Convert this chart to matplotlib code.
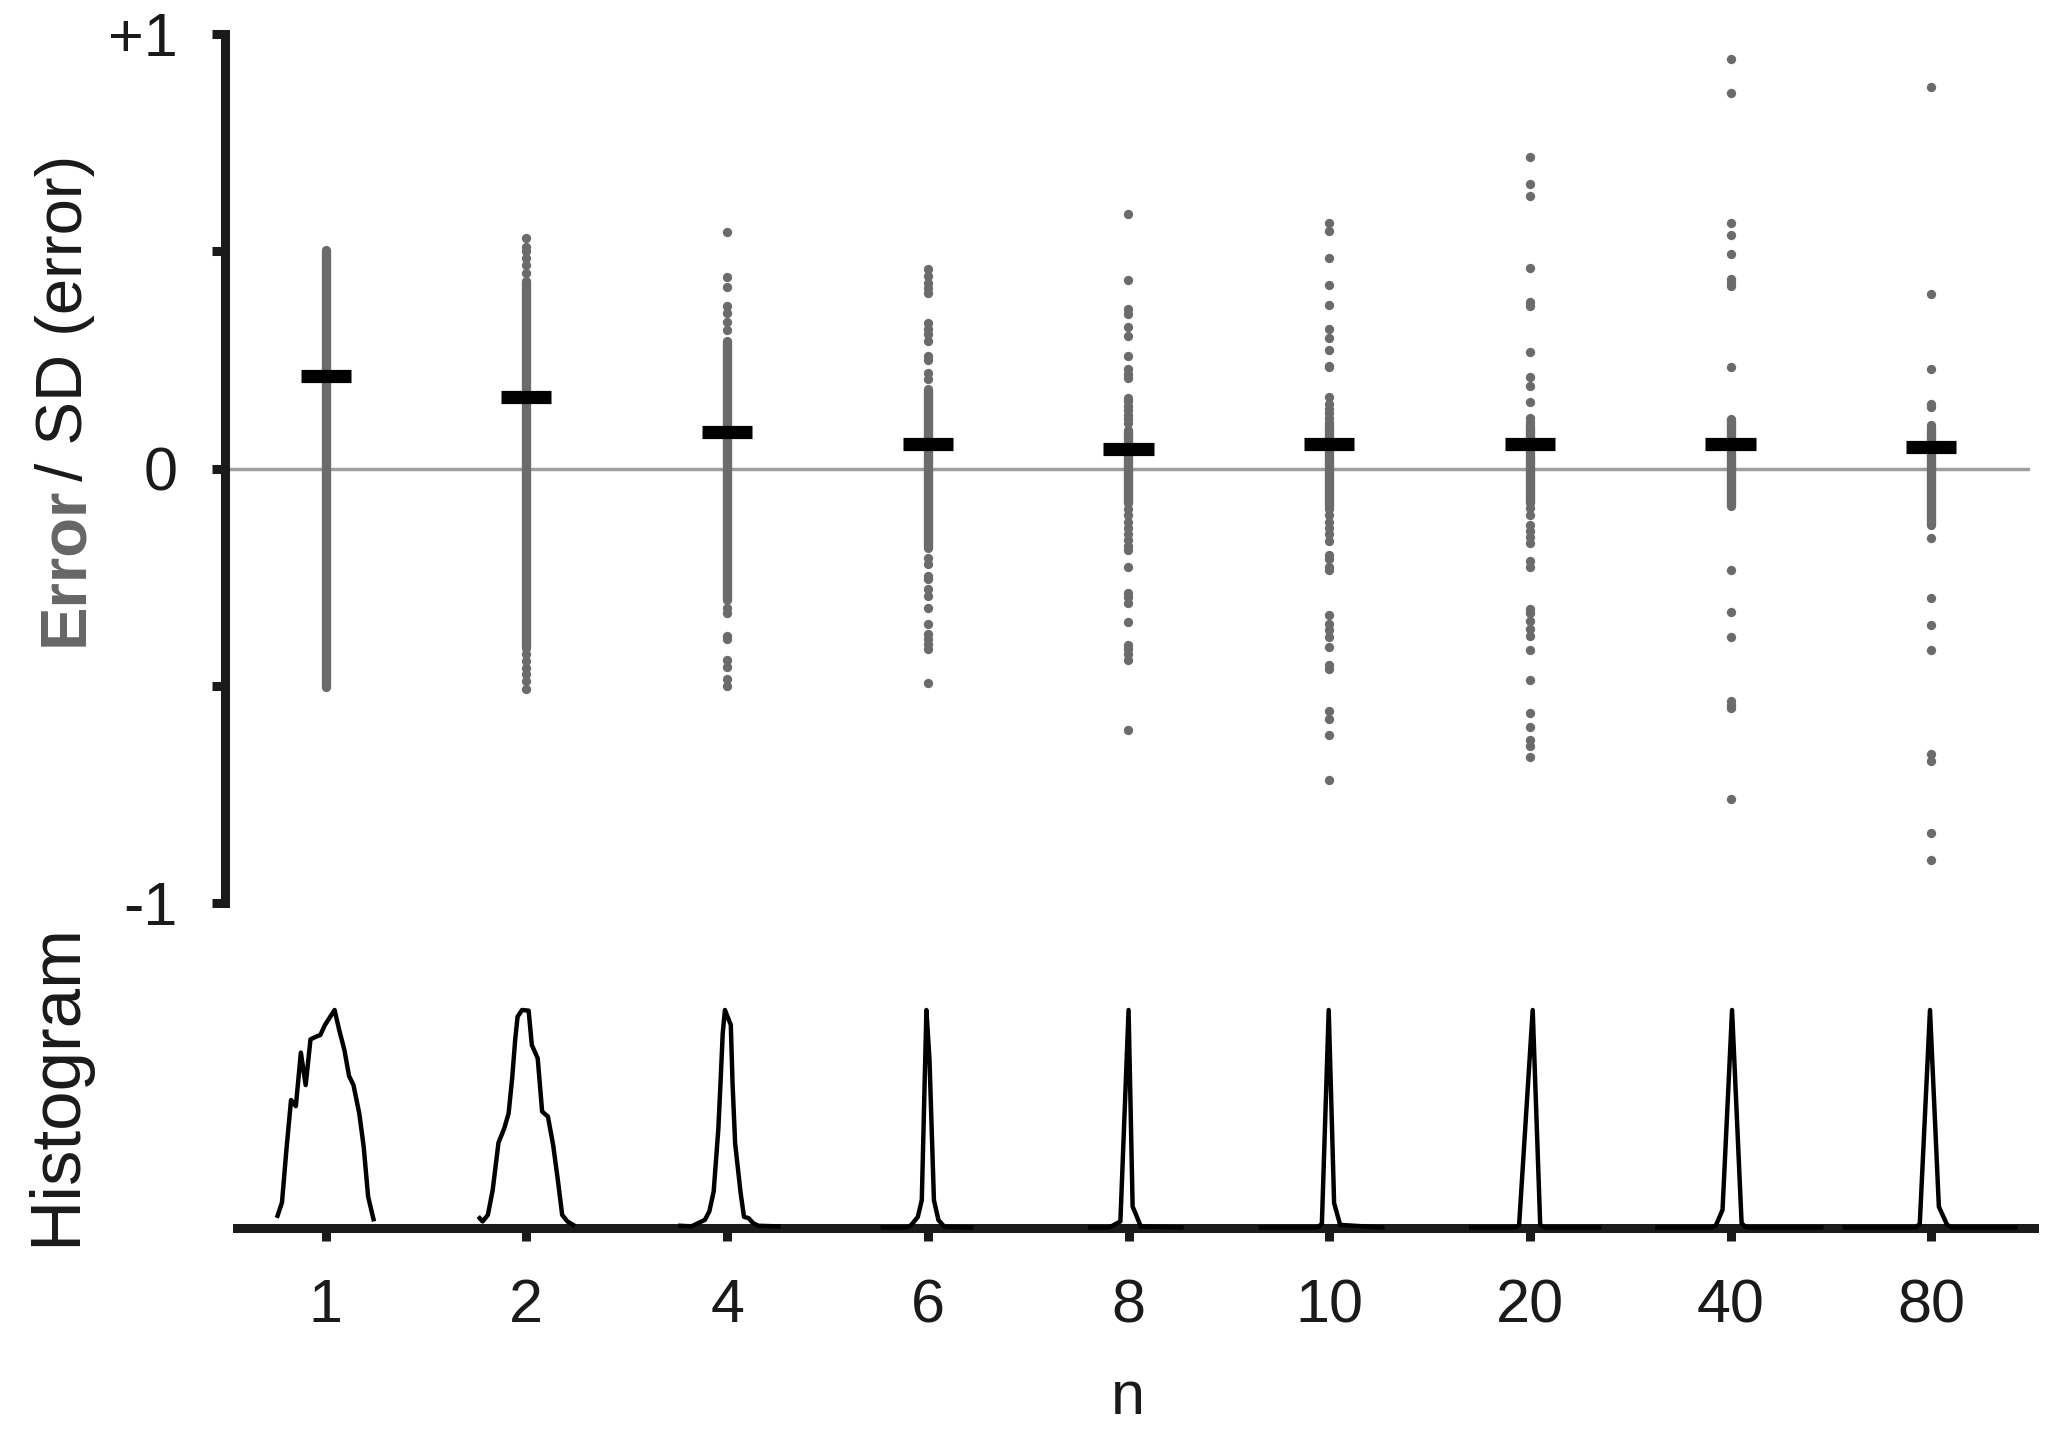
import numpy as np
import matplotlib.pyplot as plt

plt.rcParams['font.family'] = ['Liberation Sans', 'DejaVu Sans']

# sample sizes (categories)
n_labels = ['1', '2', '4', '6', '8', '10', '20', '40', '80']

# mean error / SD(error) per n
mean_err = [0.212, 0.165, 0.085, 0.056, 0.045, 0.056, 0.056, 0.056, 0.050]

# range where the dots merge into a solid column
dense_lo = [-0.504, -0.414, -0.303, -0.182, -0.080, -0.087, -0.080, -0.087, -0.129]
dense_hi = [0.503, 0.432, 0.294, 0.184, 0.089, 0.100, 0.100, 0.114, 0.093]

# single dots outside the solid column
dots_n1 = []
dots_n2 = [0.531, 0.509, 0.500, 0.484, 0.468, 0.450,
           -0.426, -0.442, -0.458, -0.474, -0.490, -0.507]
dots_n4 = [0.544, 0.441, 0.418, 0.374, 0.358, 0.338, 0.318,
           -0.320, -0.333, -0.385, -0.393, -0.441, -0.457, -0.485, -0.501]
dots_n6 = [0.458, 0.443, 0.428, 0.416, 0.405, 0.336, 0.321, 0.310, 0.294,
           0.260, 0.249, 0.219, 0.207,
           -0.205, -0.220, -0.247, -0.255, -0.278, -0.293, -0.321, -0.359,
           -0.381, -0.392, -0.403, -0.415, -0.494]
dots_n8 = [0.585, 0.434, 0.366, 0.356, 0.326, 0.304, 0.259, 0.230, 0.218,
           0.208, 0.162, 0.155, 0.144, 0.135, 0.123, 0.114, 0.104,
           -0.094, -0.108, -0.122, -0.136, -0.150, -0.164, -0.178, -0.187,
           -0.226, -0.286, -0.295, -0.309, -0.354, -0.406, -0.416, -0.427,
           -0.441, -0.602]
dots_n10 = [0.564, 0.546, 0.485, 0.423, 0.376, 0.322, 0.300, 0.273, 0.237,
            0.233, 0.165, 0.148, 0.137, 0.128, 0.117, 0.107,
            -0.094, -0.108, -0.122, -0.136, -0.150, -0.168, -0.198, -0.208,
            -0.226, -0.233, -0.337, -0.358, -0.372, -0.388, -0.411, -0.452,
            -0.462, -0.559, -0.577, -0.614, -0.716]
dots_n20 = [0.717, 0.655, 0.627, 0.462, 0.384, 0.374, 0.269, 0.211, 0.190,
            0.153, 0.117, 0.107,
            -0.092, -0.108, -0.129, -0.143, -0.157, -0.171, -0.212, -0.226,
            -0.323, -0.333, -0.351, -0.369, -0.386, -0.417, -0.487, -0.562,
            -0.596, -0.626, -0.638, -0.663]
dots_n40 = [0.942, 0.865, 0.564, 0.538, 0.494, 0.435, 0.426, 0.419, 0.234,
            -0.233, -0.330, -0.388, -0.535, -0.545, -0.552, -0.760]
dots_n80 = [0.877, 0.402, 0.229, 0.148, 0.141, 0.100,
            -0.161, -0.297, -0.361, -0.417, -0.656, -0.674, -0.840, -0.902]

# histograms: bin centre (error units) and normalised count
hb_n1 = [-0.50, -0.454, -0.408, -0.360, -0.310, -0.258, -0.208, -0.158, -0.102,
         -0.056, -0.008, 0.092, 0.140, 0.194, 0.242, 0.288, 0.348, 0.394, 0.440, 0.496]
hc_n1 = [0.054, 0.115, 0.357, 0.586, 0.558, 0.804, 0.655, 0.865, 0.877,
         0.885, 0.931, 1.0, 0.908, 0.816, 0.697, 0.655, 0.525, 0.372, 0.142, 0.038]
hb_n2 = [-0.485, -0.455, -0.40, -0.35, -0.29, -0.23, -0.185, -0.148, -0.117, -0.092,
         -0.046, 0.023, 0.056, 0.117, 0.163, 0.223, 0.277, 0.325, 0.371, 0.425, 0.485]
hc_n2 = [0.043, 0.028, 0.058, 0.173, 0.390, 0.456, 0.525, 0.686, 0.862, 0.969,
         1.0, 0.997, 0.839, 0.778, 0.533, 0.510, 0.380, 0.222, 0.058, 0.028, 0.012]
hb_n4 = [-0.485, -0.371, -0.288, -0.231, -0.185, -0.140, -0.092, -0.069, -0.046,
         -0.023, 0.038, 0.056, 0.083, 0.140, 0.175, 0.223, 0.269, 0.325, 0.533]
hc_n4 = [0.008, 0.005, 0.023, 0.035, 0.074, 0.165, 0.449, 0.663, 0.892,
         1.0, 0.931, 0.663, 0.386, 0.158, 0.049, 0.043, 0.020, 0.008, 0.005]
hb_n6 = [-0.467, -0.22, -0.173, -0.104, -0.063, -0.015, 0.017, 0.063, 0.110, 0.173, 0.450]
hc_n6 = [0.0, 0.0, 0.011, 0.049, 0.126, 1.0, 0.77, 0.126, 0.034, 0.003, 0.0]
hb_n8 = [-0.40, -0.20, -0.085, 0.0, 0.042, 0.071, 0.127, 0.55]
hc_n8 = [0.0, 0.0, 0.028, 1.0, 0.096, 0.066, 0.005, 0.0]
hb_n10 = [-0.71, -0.12, -0.077, -0.006, 0.05, 0.113, 0.55]
hc_n10 = [0.0, 0.0, 0.017, 1.0, 0.112, 0.012, 0.0]
hb_n20 = [-0.61, -0.15, -0.113, 0.028, 0.106, 0.15, 0.72]
hc_n20 = [0.0, 0.0, 0.012, 1.0, 0.012, 0.0, 0.0]
hb_n40 = [-0.76, -0.20, -0.156, -0.085, 0.014, 0.113, 0.16, 0.94]
hc_n40 = [0.0, 0.0, 0.008, 0.081, 1.0, 0.02, 0.0, 0.0]
hb_n80 = [-0.90, -0.16, -0.121, -0.015, 0.077, 0.163, 0.21, 0.87]
hc_n80 = [0.0, 0.0, 0.017, 1.0, 0.096, 0.012, 0.0, 0.0]

dots = [dots_n1, dots_n2, dots_n4, dots_n6, dots_n8, dots_n10, dots_n20, dots_n40, dots_n80]
hbins = [hb_n1, hb_n2, hb_n4, hb_n6, hb_n8, hb_n10, hb_n20, hb_n40, hb_n80]
hcounts = [hc_n1, hc_n2, hc_n4, hc_n6, hc_n8, hc_n10, hc_n20, hc_n40, hc_n80]

W, H = 2067, 1429
DOT = '#6b6b6b'
AXC = '#1a1a1a'
FS = 44
hist_scale = 0.48   # category units per error unit


def fx(px):
    return px / W


def fy(py):
    return 1 - py / H


fig = plt.figure(figsize=(W / 100, H / 100), dpi=100)
ax = fig.add_axes([fx(224.5), fy(903), fx(2030) - fx(224.5), fy(34) - fy(903)])
axh = fig.add_axes([fx(237), fy(1227.5), fx(2034) - fx(237), fy(1010) - fy(1227.5)])

pos = np.arange(len(n_labels))

# --- top panel: errors
ax.axhline(0, color='#9e9e9e', lw=2.5, zorder=1)
ax.vlines(pos, dense_lo, dense_hi, color=DOT, lw=6.7, capstyle='round', zorder=2)
for i, d in enumerate(dots):
    if len(d):
        ax.scatter(np.full(len(d), pos[i]), d, s=45, color=DOT, linewidths=0, zorder=2)
ax.hlines(mean_err, pos - 0.125, pos + 0.125, color='black', lw=9.5, zorder=3)

ax.set_xlim(-0.504, 8.492)
ax.set_ylim(-1, 1)
for s in ['top', 'right', 'bottom']:
    ax.spines[s].set_visible(False)
ax.spines['left'].set_linewidth(6.5)
ax.spines['left'].set_color(AXC)
ax.set_xticks([])
ax.set_yticks([-1, -0.5, 0, 0.5, 1])
ax.set_yticklabels(['-1', '', '0', '', '+1'])
ax.tick_params(axis='y', length=9.4, width=6.5, color=AXC, pad=24,
               labelsize=FS, labelcolor=AXC)

# --- bottom panel: histograms
for i in range(len(n_labels)):
    axh.plot(pos[i] + np.array(hbins[i]) * hist_scale, hcounts[i], color='black',
             lw=3.2, clip_on=False, zorder=3)
axh.set_xlim(-0.442, 8.511)
axh.set_ylim(0, 1)
for s in ['top', 'right', 'left']:
    axh.spines[s].set_visible(False)
axh.spines['bottom'].set_linewidth(6.5)
axh.spines['bottom'].set_color(AXC)
axh.set_yticks([])
axh.set_xticks(pos)
axh.set_xticklabels(n_labels)
axh.tick_params(axis='x', length=9.4, width=6.5, color=AXC, pad=27,
                labelsize=FS, labelcolor=AXC)

# --- labels
fig.text(fx(1128), fy(1398), 'n', ha='center', va='center', fontsize=FS, color=AXC)
fig.text(fx(57), fy(1085), 'Histogram', rotation=90, ha='center', va='center',
         fontsize=51, color=AXC)

t1 = fig.text(fx(82), fy(646), 'Error', rotation=90, rotation_mode='anchor',
              ha='left', va='baseline', fontsize=47, fontweight='bold', color='#666666')
fig.canvas.draw()
bb = t1.get_window_extent()
fig.text(fx(82), fy(646) + (bb.height - 12) / H, ' / SD (error)', rotation=90,
         rotation_mode='anchor', ha='left', va='baseline', fontsize=47, color=AXC)

fig.savefig('out.png', dpi=100)
